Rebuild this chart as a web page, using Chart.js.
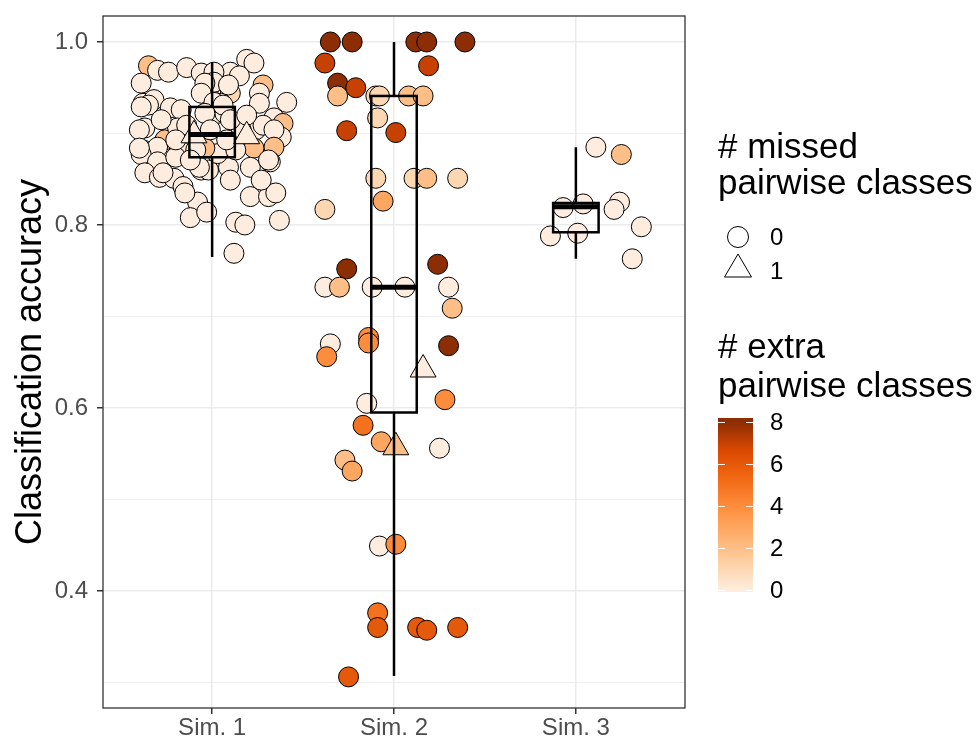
<!DOCTYPE html>
<html>
<head>
<meta charset="utf-8">
<script src="https://cdn.jsdelivr.net/npm/chart.js@4.4.1/dist/chart.umd.min.js"></script>
<style>
  body { margin: 0; background: #fff; }
  canvas { display: block; }
</style>
</head>
<body>
<canvas id="chart" width="979" height="740"></canvas>
<script>
// categories and axis ticks
const categories = ["Sim. 1", "Sim. 2", "Sim. 3"];
const yGridValues = [0.3, 0.4, 0.5, 0.6, 0.7, 0.8, 0.9, 1.0];
const yLabelValues = [0.4, 0.6, 0.8, 1.0];
const colorbarTicks = [0, 2, 4, 6, 8];

// Sim. 1 points: horizontal jitter, accuracy, # extra classes, # missed classes
const sim1Jitter = [-0.35, -0.30, -0.24, -0.14, -0.06, -0.39, 0.10, 0.19, 0.23, 0.15,
  0.01, 0.28, 0.10, 0.26, 0.41, 0.26, 0.34, 0.39, 0.38, 0.24,
  0.28, 0.34, 0.34, 0.23, 0.05, 0.03, 0.07, -0.02, 0.01, 0.09,
  -0.38, -0.32, -0.35, -0.23, -0.17, -0.37, -0.26, -0.38, -0.30, -0.19,
  -0.18, -0.04, -0.06, -0.39, -0.30, -0.37, -0.29, -0.21, -0.20, -0.16,
  -0.08, -0.12, -0.06, -0.02, 0.09, 0.21, 0.32, 0.21, 0.31, 0.35,
  0.37, 0.13, 0.18, 0.12, -0.03, 0.01, 0.06, -0.04, 0.03, -0.04,
  -0.07, 0.31, 0.16, -0.01, -0.27, -0.15, -0.39, -0.40, -0.40, -0.14,
  0.10, 0.19, -0.09, 0.13, 0.08, -0.28, -0.20, -0.12, 0.10, 0.27,
  -0.10, 0.19];
const sim1Acc = [0.974, 0.969, 0.967, 0.972, 0.966, 0.955, 0.967, 0.981, 0.977, 0.963,
  0.967, 0.953, 0.944, 0.944, 0.934, 0.933, 0.917, 0.911, 0.896, 0.904,
  0.909, 0.904, 0.885, 0.884, 0.933, 0.922, 0.922, 0.948, 0.956, 0.953,
  0.933, 0.937, 0.931, 0.928, 0.926, 0.906, 0.893, 0.882, 0.885, 0.906,
  0.882, 0.955, 0.944, 0.877, 0.869, 0.857, 0.852, 0.851, 0.874, 0.842,
  0.825, 0.808, 0.860, 0.860, 0.863, 0.863, 0.869, 0.831, 0.831, 0.835,
  0.805, 0.803, 0.800, 0.769, 0.814, 0.934, 0.931, 0.922, 0.878, 0.884,
  0.863, 0.871, 0.904, 0.904, 0.857, 0.835, 0.929, 0.904, 0.884, 0.909,
  0.915, 0.920, 0.882, 0.882, 0.893, 0.915, 0.893, 0.871, 0.849, 0.849,
  0.898, 0.897];
const sim1Extra = [2, 0, 0, 0, 0, 0, 0, 0, 0, 0,
  0, 2, 1, 0, 0, 0, 0, 2, 0, 0,
  0, 0, 2, 2, 0, 0, 0, 0, 0, 0,
  0, 0, 0, 0, 0, 0, 2, 0, 0, 0,
  0, 0, 0, 0, 0, 0, 0, 0, 0, 0,
  0, 0, 0, 0, 0, 0, 0, 0, 0, 0,
  0, 0, 0, 0, 0, 0, 0, 0, 0, 2,
  0, 0, 0, 0, 0, 0, 0, 0, 0, 0,
  0, 0, 0, 0, 0, 0, 0, 0, 0, 0,
  0, 0];
const sim1Missed = [0, 0, 0, 0, 0, 0, 0, 0, 0, 0,
  0, 0, 0, 0, 0, 0, 0, 0, 0, 0,
  0, 0, 0, 0, 0, 0, 0, 0, 0, 0,
  0, 0, 0, 0, 0, 0, 0, 0, 0, 0,
  0, 0, 0, 0, 0, 0, 0, 0, 0, 0,
  0, 0, 0, 0, 0, 0, 0, 0, 0, 0,
  0, 0, 0, 0, 0, 0, 0, 0, 0, 0,
  0, 0, 0, 0, 0, 0, 0, 0, 0, 0,
  0, 0, 0, 0, 0, 0, 0, 0, 0, 0,
  1, 1];

// Sim. 2 points
const sim2Jitter = [-0.35, -0.23, 0.12, 0.18, 0.39, -0.38, 0.19, -0.31, -0.21, -0.31,
  -0.10, -0.08, 0.08, 0.16, -0.09, -0.26, 0.01, -0.10, 0.11, 0.18,
  0.35, -0.06, -0.38, -0.26, -0.38, -0.30, -0.12, 0.06, 0.24, 0.30,
  0.32, -0.14, -0.14, -0.35, -0.37, 0.30, 0.16, -0.15, 0.28, -0.17,
  -0.07, 0.01, 0.25, -0.27, -0.23, -0.08, 0.01, -0.09, -0.09, 0.13,
  0.18, 0.35, -0.25];
const sim2Acc = [1.000, 1.000, 1.000, 1.000, 1.000, 0.977, 0.974, 0.955, 0.950, 0.941,
  0.941, 0.941, 0.941, 0.941, 0.917, 0.903, 0.901, 0.851, 0.851, 0.851,
  0.851, 0.826, 0.817, 0.752, 0.732, 0.732, 0.732, 0.732, 0.757, 0.732,
  0.709, 0.677, 0.671, 0.670, 0.656, 0.668, 0.642, 0.605, 0.609, 0.581,
  0.563, 0.557, 0.556, 0.543, 0.531, 0.449, 0.451, 0.376, 0.360, 0.360,
  0.357, 0.360, 0.306];
const sim2Extra = [8, 8, 8, 8, 8, 7, 7, 8, 7, 2,
  1, 1, 2, 2, 1, 7, 7, 1, 1, 2,
  1, 3, 1, 8, 0, 2, 0, 0, 8, 0,
  2, 4, 4, 0, 4, 8, 0, 0, 4, 5,
  3, 2, 0, 2, 3, 0, 4, 5, 6, 6,
  6, 6, 6];
const sim2Missed = [0, 0, 0, 0, 0, 0, 0, 0, 0, 0,
  0, 0, 0, 0, 0, 0, 0, 0, 0, 0,
  0, 0, 0, 0, 0, 0, 0, 0, 0, 0,
  0, 0, 0, 0, 0, 0, 1, 0, 0, 0,
  0, 1, 0, 0, 0, 0, 0, 0, 0, 0,
  0, 0, 0];

// Sim. 3 points
const sim3Jitter = [0.11, 0.25, -0.07, 0.04, 0.24, 0.21, 0.36, -0.14, 0.01, 0.31];
const sim3Acc = [0.885, 0.877, 0.819, 0.823, 0.825, 0.817, 0.798, 0.788, 0.791, 0.763];
const sim3Extra = [0, 2, 0, 0, 0, 0, 0, 0, 0, 0];
const sim3Missed = [0, 0, 0, 0, 0, 0, 0, 0, 0, 0];

// box plot summaries per simulation
const boxLow = [0.765, 0.307, 0.763];
const boxQ1 = [0.874, 0.595, 0.792];
const boxMedian = [0.899, 0.732, 0.820];
const boxQ3 = [0.929, 0.941, 0.824];
const boxHigh = [0.978, 1.000, 0.885];

const FONT = '"Liberation Sans", Arial, Helvetica, sans-serif';
const oranges = ["#FEEDDE", "#FDD0A2", "#FDAE6B", "#FD8D3C", "#F16913", "#D94801", "#8C2D04"];
const extraMax = 8;

function hexToRgb(h) {
  return [parseInt(h.slice(1, 3), 16), parseInt(h.slice(3, 5), 16), parseInt(h.slice(5, 7), 16)];
}

function orangeColor(v) {
  const t = Math.max(0, Math.min(1, v / extraMax)) * (oranges.length - 1);
  const i = Math.min(Math.floor(t), oranges.length - 2);
  const f = t - i;
  const a = hexToRgb(oranges[i]);
  const b = hexToRgb(oranges[i + 1]);
  const c = a.map((x, k) => Math.round(x + (b[k] - x) * f));
  return `rgb(${c[0]},${c[1]},${c[2]})`;
}

const isMajor = (v) => yLabelValues.some((m) => Math.abs(m - v) < 1e-6);

const sims = [
  { jitter: sim1Jitter, acc: sim1Acc, extra: sim1Extra, missed: sim1Missed },
  { jitter: sim2Jitter, acc: sim2Acc, extra: sim2Extra, missed: sim2Missed },
  { jitter: sim3Jitter, acc: sim3Acc, extra: sim3Extra, missed: sim3Missed },
];

const datasets = sims.map((s, i) => ({
  label: categories[i],
  data: s.acc.map((a, j) => ({ x: i + 1 + s.jitter[j], y: a })),
  pointStyle: s.missed.map((m) => (m ? "triangle" : "circle")),
  pointRadius: s.missed.map((m) => (m ? 15 : 10)),
  pointBackgroundColor: s.extra.map((e) => orangeColor(e)),
  pointBorderColor: "#000",
  pointBorderWidth: 1,
  showLine: false,
}));

const boxPlugin = {
  id: "boxes",
  afterDatasetsDraw(chart) {
    const { ctx, scales: { x, y } } = chart;
    const half = 0.125;
    ctx.save();
    ctx.strokeStyle = "#000";
    ctx.lineWidth = 2.5;
    for (let i = 0; i < categories.length; i++) {
      const cx = x.getPixelForValue(i + 1);
      const xl = x.getPixelForValue(i + 1 - half);
      const xr = x.getPixelForValue(i + 1 + half);
      const yq1 = y.getPixelForValue(boxQ1[i]);
      const yq3 = y.getPixelForValue(boxQ3[i]);
      ctx.beginPath();
      ctx.moveTo(cx, y.getPixelForValue(boxHigh[i]));
      ctx.lineTo(cx, yq3);
      ctx.moveTo(cx, yq1);
      ctx.lineTo(cx, y.getPixelForValue(boxLow[i]));
      ctx.stroke();
      ctx.strokeRect(xl, yq3, xr - xl, yq1 - yq3);
      ctx.lineWidth = 5;
      ctx.beginPath();
      ctx.moveTo(xl, y.getPixelForValue(boxMedian[i]));
      ctx.lineTo(xr, y.getPixelForValue(boxMedian[i]));
      ctx.stroke();
      ctx.lineWidth = 2.5;
    }
    ctx.restore();
  },
  afterDraw(chart) {
    const { ctx, chartArea: a } = chart;
    ctx.save();
    // panel border
    ctx.strokeStyle = "#333";
    ctx.lineWidth = 1.3;
    ctx.strokeRect(a.left, a.top, a.right - a.left, a.bottom - a.top);

    // shape legend
    ctx.fillStyle = "#000";
    ctx.font = `35px ${FONT}`;
    ctx.textBaseline = "alphabetic";
    ctx.fillText("# missed", 718, 158);
    ctx.fillText("pairwise classes", 718, 194);
    ctx.lineWidth = 1;
    ctx.strokeStyle = "#000";
    ctx.fillStyle = "#fff";
    ctx.beginPath();
    ctx.arc(738, 237, 10.5, 0, Math.PI * 2);
    ctx.fill();
    ctx.stroke();
    ctx.beginPath();
    ctx.moveTo(738, 254);
    ctx.lineTo(751.5, 277);
    ctx.lineTo(724.5, 277);
    ctx.closePath();
    ctx.fill();
    ctx.stroke();
    ctx.fillStyle = "#000";
    ctx.font = `24px ${FONT}`;
    ctx.textBaseline = "middle";
    ctx.fillText("0", 770, 238);
    ctx.fillText("1", 770, 272);

    // colour bar legend
    ctx.font = `35px ${FONT}`;
    ctx.textBaseline = "alphabetic";
    ctx.fillText("# extra", 718, 358);
    ctx.fillText("pairwise classes", 718, 397);
    const yOf = (v) => 590 - v * 21;
    const grad = ctx.createLinearGradient(0, yOf(0), 0, yOf(extraMax));
    oranges.forEach((c, k) => grad.addColorStop(k / (oranges.length - 1), c));
    ctx.fillStyle = grad;
    ctx.fillRect(718, 418, 35, 174);
    ctx.strokeStyle = "rgba(255,255,255,0.9)";
    ctx.lineWidth = 1;
    ctx.font = `24px ${FONT}`;
    ctx.textBaseline = "middle";
    colorbarTicks.forEach((v) => {
      const ty = Math.round(yOf(v)) + 0.5;
      ctx.beginPath();
      ctx.moveTo(718, ty);
      ctx.lineTo(725, ty);
      ctx.moveTo(746, ty);
      ctx.lineTo(753, ty);
      ctx.stroke();
      ctx.fillStyle = "#000";
      ctx.fillText(String(v), 770, yOf(v) + 1);
    });
    ctx.restore();
  },
};

new Chart(document.getElementById("chart"), {
  type: "scatter",
  data: { datasets },
  plugins: [boxPlugin],
  options: {
    responsive: false,
    animation: false,
    devicePixelRatio: 1,
    layout: { padding: { top: 12, right: 294, bottom: 0, left: 0 } },
    plugins: { legend: { display: false }, tooltip: { enabled: false } },
    scales: {
      x: {
        type: "linear",
        min: 0.4,
        max: 3.6,
        afterBuildTicks: (scale) => {
          scale.ticks = categories.map((c, i) => ({ value: i + 1 }));
        },
        afterFit: (scale) => {
          scale.height = 32;
        },
        ticks: {
          callback: (v, i) => categories[i],
          font: { family: FONT, size: 24 },
          color: "#4d4d4d",
          padding: 0,
          maxRotation: 0,
        },
        grid: { color: "#ebebeb", lineWidth: 1.5, tickColor: "#333", tickLength: 6 },
        border: { display: false },
      },
      y: {
        min: 0.272,
        max: 1.0284,
        afterBuildTicks: (scale) => {
          scale.ticks = yGridValues.map((v) => ({ value: v }));
        },
        afterFit: (scale) => {
          scale.width = 103;
        },
        ticks: {
          callback: (v) => (isMajor(v) ? v.toFixed(1) : ""),
          font: { family: FONT, size: 24, lineHeight: 0.3 },
          color: "#4d4d4d",
          padding: 9,
        },
        grid: {
          color: "#ebebeb",
          lineWidth: (ctx) => (isMajor(ctx.tick.value) ? 1.5 : 0.8),
          tickColor: (ctx) => (isMajor(ctx.tick.value) ? "#333" : "rgba(0,0,0,0)"),
          tickLength: 6,
        },
        border: { display: false },
        title: {
          display: true,
          text: "Classification accuracy",
          font: { family: FONT, size: 36 },
          color: "#000",
          padding: { top: 9, bottom: 0 },
        },
      },
    },
  },
});
</script>
</body>
</html>
